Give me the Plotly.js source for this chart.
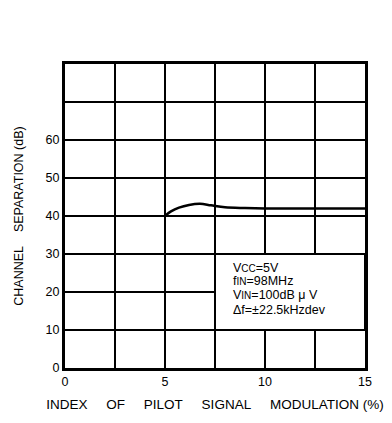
<!DOCTYPE html>
<html><head><meta charset="utf-8">
<script src="https://cdn.plot.ly/plotly-3.0.1.min.js"></script>
<style>html,body{margin:0;padding:0;background:#fff;}#chart{width:392px;height:423px;}</style>
</head><body><div id="chart"></div>
<script>
const modIndex = [5, 5.3, 5.7, 6.2, 6.75, 7.3, 8, 9, 10, 12, 15];
const separation = [40, 41.2, 42.2, 42.9, 43.2, 42.8, 42.3, 42.1, 42, 42, 42];
const xTickVals = [0, 2.5, 5, 7.5, 10, 12.5, 15];
const xTickText = ['0', '', '5', '', '10', '', '15'];
const yTickVals = [0, 10, 20, 30, 40, 50, 60, 70, 80];
const yTickText = ['0', '10', '20', '30', '40', '50', '60', '', ''];
const conditions = ['V<span style="font-size:10px">CC</span>=5V', 'f<span style="font-size:10px">IN</span>=98MHz', 'V<span style="font-size:10px">IN</span>=100dB μ V', 'Δf=±22.5kHzdev'];
const conditionY = [26.3, 22.8, 19.1, 15.2];
const xTitleWords = ['INDEX', 'OF', 'PILOT', 'SIGNAL', 'MODULATION (%)'];

const ff = 'Liberation Sans, Arial, sans-serif';
const font = {family: ff, color: '#000', size: 12};
const annotations = conditions.map((t, i) => ({xref: 'x', yref: 'y', x: 8.3, y: conditionY[i],
  xanchor: 'left', yanchor: 'middle', align: 'left', showarrow: false, text: t,
  font: {size: 12.5, color: '#000', family: ff}}));

Plotly.newPlot('chart', [{
  x: modIndex, y: separation, mode: 'lines', type: 'scatter',
  line: {color: '#000', width: 2.5, shape: 'spline'}, hoverinfo: 'skip'
}], {
  width: 392, height: 423,
  margin: {l: 65, r: 27, t: 64, b: 55},
  paper_bgcolor: '#fff', plot_bgcolor: '#fff',
  showlegend: false, font: font,
  xaxis: {range: [0, 15], tickvals: xTickVals, ticktext: xTickText, showgrid: true,
    gridcolor: '#000', gridwidth: 2, zeroline: false, showline: true, linecolor: '#000',
    linewidth: 3, mirror: true, ticks: '', ticklen: 0, tickfont: {size: 12.5},
    title: {text: xTitleWords.join('&nbsp;&nbsp;&nbsp;&nbsp;&nbsp;'), font: {size: 13.5}, standoff: 12}},
  yaxis: {range: [0, 80], tickvals: yTickVals, ticktext: yTickText, showgrid: true,
    gridcolor: '#000', gridwidth: 2, zeroline: false, showline: true, linecolor: '#000',
    linewidth: 3, mirror: true, ticks: '', ticklen: 0, tickfont: {size: 12.5},
    title: {text: 'CHANNEL&nbsp;&nbsp;&nbsp;&nbsp;SEPARATION (dB)', font: {size: 12.5}, standoff: 20}},
  shapes: [{type: 'rect', xref: 'x', yref: 'y', x0: 7.5, x1: 15, y0: 10, y1: 30,
    fillcolor: '#fff', line: {color: '#000', width: 2}, layer: 'above'}],
  annotations: annotations
}, {staticPlot: true});
</script></body></html>
